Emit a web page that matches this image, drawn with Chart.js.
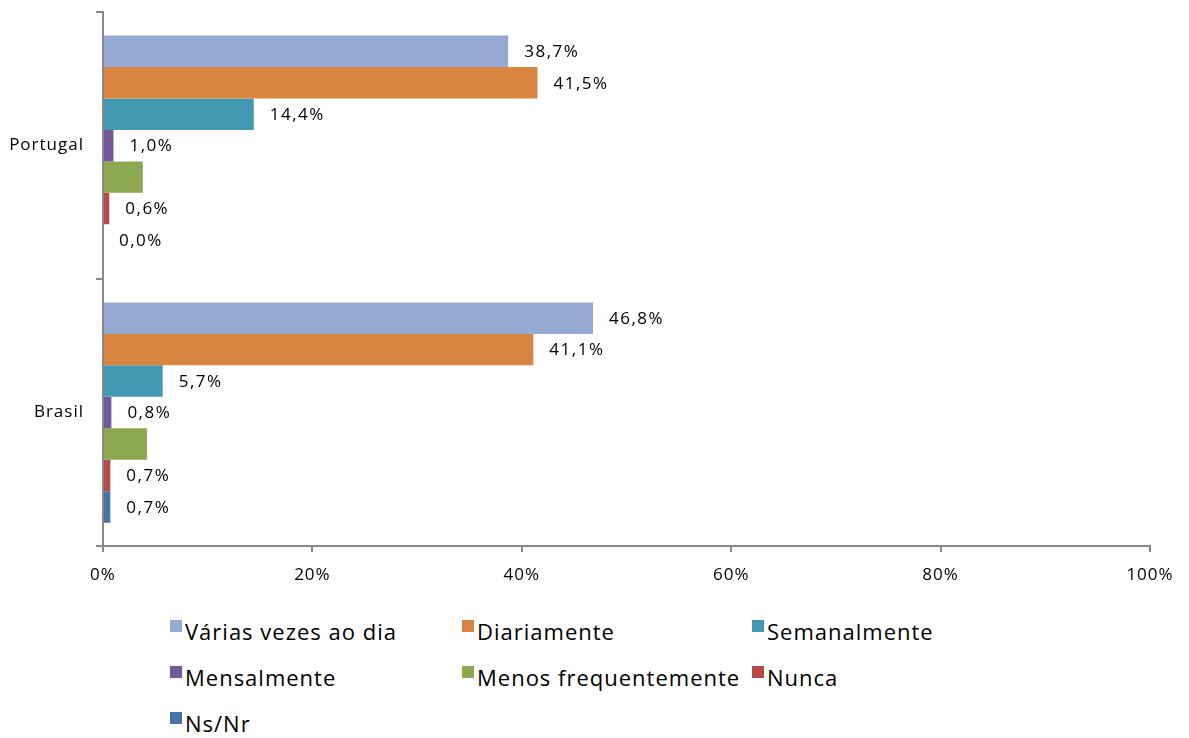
<!DOCTYPE html>
<html>
<head>
<meta charset="utf-8">
<script src="https://cdn.jsdelivr.net/npm/chart.js@4/dist/chart.umd.min.js"></script>
<style>
  html, body { margin: 0; padding: 0; background: #fff; overflow: hidden; }
  #wrap { position: relative; width: 1189px; height: 738px; font-family: "Open Sans", sans-serif; overflow: hidden; }
  #chart { position: absolute; left: 0; top: -10px; }
  #legend { position: absolute; left: 170px; top: 617px; width: 1000px; }
  .item { position: absolute; font-size: 22px; letter-spacing: 1px; color: #000; white-space: nowrap; line-height: 28px; }
  .item span.box { display: inline-block; width: 12px; height: 12px; margin-right: 3px; vertical-align: 8px; }
</style>
</head>
<body>
<div id="wrap">
  <canvas id="chart" width="1189" height="610"></canvas>
  <div id="legend"></div>
</div>
<script>
const countries = ["Portugal", "Brasil"];
const frequency = ["Várias vezes ao dia", "Diariamente", "Semanalmente", "Mensalmente", "Menos frequentemente", "Nunca", "Ns/Nr"];
const colors = ["#95a9d2", "#d9843f", "#4399b1", "#73599b", "#8ca952", "#b84b4a", "#4673aa"];

// percentages per frequency, [Portugal, Brasil]
const variasVezes = [38.7, 46.8];
const diariamente = [41.5, 41.1];
const semanalmente = [14.4, 5.7];
const mensalmente = [1.0, 0.8];
const menosFrequente = [3.8, 4.2];
const nunca = [0.6, 0.7];
const nsNr = [0.0, 0.7];

const seriesValues = [variasVezes, diariamente, semanalmente, mensalmente, menosFrequente, nunca, nsNr];
const xTicks = [0, 20, 40, 60, 80, 100];
const noLabel = ["Menos frequentemente"];

const datasets = frequency.map((name, i) => ({
  label: name,
  data: seriesValues[i],
  backgroundColor: colors[i],
  borderWidth: 0,
  barPercentage: 1.0,
  categoryPercentage: 0.825,
}));

// wider letter spacing for all canvas text
const spacing = {
  id: "spacing",
  beforeInit(chart) { chart.ctx.letterSpacing = "1px"; },
  beforeDraw(chart) { chart.ctx.letterSpacing = "1px"; },
};

// value labels to the right of each bar
const valueLabels = {
  id: "valueLabels",
  afterDatasetsDraw(chart) {
    const ctx = chart.ctx;
    ctx.save();
    ctx.font = "17px 'Open Sans', sans-serif";
    ctx.letterSpacing = "1.5px";
    ctx.fillStyle = "#000";
    ctx.textAlign = "left";
    ctx.textBaseline = "middle";
    chart.data.datasets.forEach((ds, i) => {
      if (noLabel.includes(ds.label)) return;
      chart.getDatasetMeta(i).data.forEach((bar, j) => {
        const txt = ds.data[j].toFixed(1).replace(".", ",") + "%";
        ctx.fillText(txt, bar.x + 16, bar.y + 1);
      });
    });
    ctx.restore();
  },
};

new Chart(document.getElementById("chart"), {
  type: "bar",
  data: { labels: countries, datasets: datasets },
  options: {
    indexAxis: "y",
    responsive: false,
    animation: false,
    layout: { padding: { left: 0, right: 39, top: 0, bottom: 0 } },
    plugins: { legend: { display: false }, tooltip: { enabled: false } },
    scales: {
      x: {
        min: 0,
        max: 100,
        afterBuildTicks: (scale) => { scale.ticks = xTicks.map((v) => ({ value: v })); },
        afterFit: (scale) => { scale.height = 54; },
        border: { color: "#888", width: 2 },
        grid: { drawOnChartArea: false, color: "#888", tickLength: 6, lineWidth: 2 },
        ticks: {
          color: "#000",
          font: { family: "Open Sans", size: 17 },
          padding: 13,
          maxRotation: 0,
          callback: (v) => v + "%",
        },
      },
      y: {
        afterFit: (scale) => { scale.width = 103; },
        border: { color: "#888", width: 2 },
        grid: { drawOnChartArea: false, color: "#888", tickLength: 7, lineWidth: 2, offset: true },
        ticks: { color: "#000", font: { family: "Open Sans", size: 17 }, padding: 12 },
      },
    },
  },
  plugins: [spacing, valueLabels],
});

// legend laid out in three columns
const legendEl = document.getElementById("legend");
const colX = [0, 292, 582];
frequency.forEach((name, i) => {
  const el = document.createElement("div");
  el.className = "item";
  el.style.left = colX[i % 3] + "px";
  el.style.top = Math.floor(i / 3) * 46 + "px";
  el.innerHTML = '<span class="box" style="background:' + colors[i] + '"></span>' + name;
  legendEl.appendChild(el);
});
</script>
</body>
</html>
